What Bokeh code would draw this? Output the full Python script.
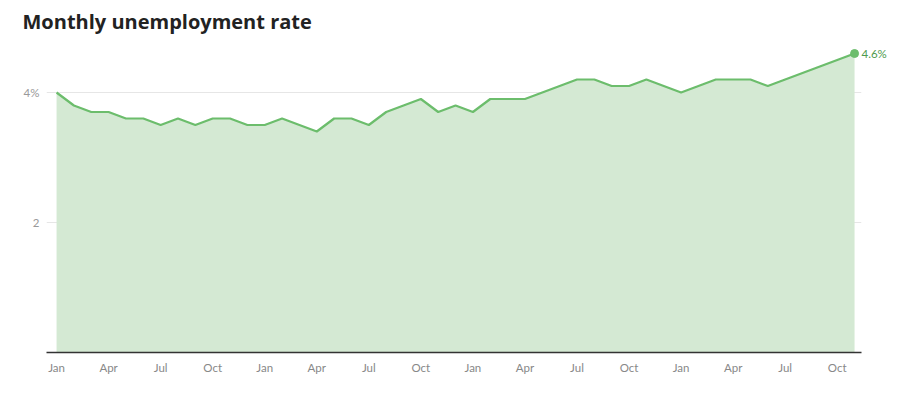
from bokeh.plotting import figure
from bokeh.models import FixedTicker, ColumnDataSource, Range1d, LinearAxis
from bokeh.embed import file_html
from bokeh.resources import INLINE

# Month index from Jan 2022 (0) to Nov 2025 (46); Oct 2025 (45) not published
month_index = list(range(0, 45)) + [46]
rate = [
    4.0, 3.8, 3.7, 3.7, 3.6, 3.6, 3.5, 3.6, 3.5, 3.6, 3.6, 3.5,   # 2022
    3.5, 3.6, 3.5, 3.4, 3.6, 3.6, 3.5, 3.7, 3.8, 3.9, 3.7, 3.8,   # 2023
    3.7, 3.9, 3.9, 3.9, 4.0, 4.1, 4.2, 4.2, 4.1, 4.1, 4.2, 4.1,   # 2024
    4.0, 4.1, 4.2, 4.2, 4.2, 4.1, 4.2, 4.3, 4.4, 4.6,             # 2025
]
x_tick_pos = list(range(0, 46, 3))
x_tick_labels = ["Jan", "Apr", "Jul", "Oct"] * 4
y_tick_pos = [2, 4]
y_tick_labels = ["2", "4%"]
last_label = "4.6%"

LINE = "#6cbd6c"
FILL = "#d4e9d3"
FONT = "Lato"

src = ColumnDataSource(dict(x=month_index, y=rate, base=[0] * len(rate)))

p = figure(width=897, height=382, output_backend="svg", toolbar_location=None,
           x_range=Range1d(-0.58, 46.4), y_range=Range1d(0, 4.8),
           min_border_left=46, min_border_right=36, min_border_bottom=30,
           min_border_top=8)
p.title.text = "Monthly unemployment rate"
p.title.text_font = "Open Sans"
p.title.text_font_size = "20px"
p.title.text_font_style = "bold"
p.title.text_color = "#222222"
p.title.offset = -24
p.title.standoff = 11
p.outline_line_color = None
p.background_fill_color = "white"
p.border_fill_color = "white"

p.varea(x="x", y1="base", y2="y", source=src, fill_color=FILL, fill_alpha=1)
p.line(x="x", y="y", source=src, line_color=LINE, line_width=2.2)
p.scatter(x=[month_index[-1]], y=[rate[-1]], size=8, color=LINE)

# end-value label as a right-side axis label (drawn outside the frame)
end_axis = LinearAxis(ticker=FixedTicker(ticks=[rate[-1]]),
                      major_label_overrides={rate[-1]: last_label})
end_axis.axis_line_color = None
end_axis.major_tick_line_color = None
end_axis.minor_tick_line_color = None
end_axis.major_tick_out = 0
end_axis.major_tick_in = 0
end_axis.major_label_text_color = "#4d9a4d"
end_axis.major_label_text_font = FONT
end_axis.major_label_text_font_size = "11.5px"
end_axis.major_label_standoff = 0
p.add_layout(end_axis, "right")

p.xaxis.ticker = FixedTicker(ticks=x_tick_pos)
p.xaxis.major_label_overrides = {t: l for t, l in zip(x_tick_pos, x_tick_labels)}
p.xaxis.major_tick_line_color = None
p.xaxis.minor_tick_line_color = None
p.xaxis.axis_line_color = "#333333"
p.xaxis.axis_line_width = 1.3
p.xaxis.major_label_text_color = "#888888"
p.xaxis.major_label_text_font = FONT
p.xaxis.major_label_text_font_size = "11.5px"
p.xaxis.major_label_standoff = 2

p.yaxis[0].ticker = FixedTicker(ticks=y_tick_pos)
p.yaxis[0].major_label_overrides = {t: l for t, l in zip(y_tick_pos, y_tick_labels)}
p.yaxis[0].major_tick_line_color = None
p.yaxis[0].minor_tick_line_color = None
p.yaxis[0].axis_line_color = None
p.yaxis[0].major_label_text_color = "#999999"
p.yaxis[0].major_label_text_font = FONT
p.yaxis[0].major_label_text_font_size = "11.5px"
p.yaxis[0].major_label_standoff = 1

p.xgrid.grid_line_color = None
p.ygrid.grid_line_color = "#e6e6e6"
p.ygrid.grid_line_width = 1

open("out.html", "w").write(file_html(p, INLINE))
